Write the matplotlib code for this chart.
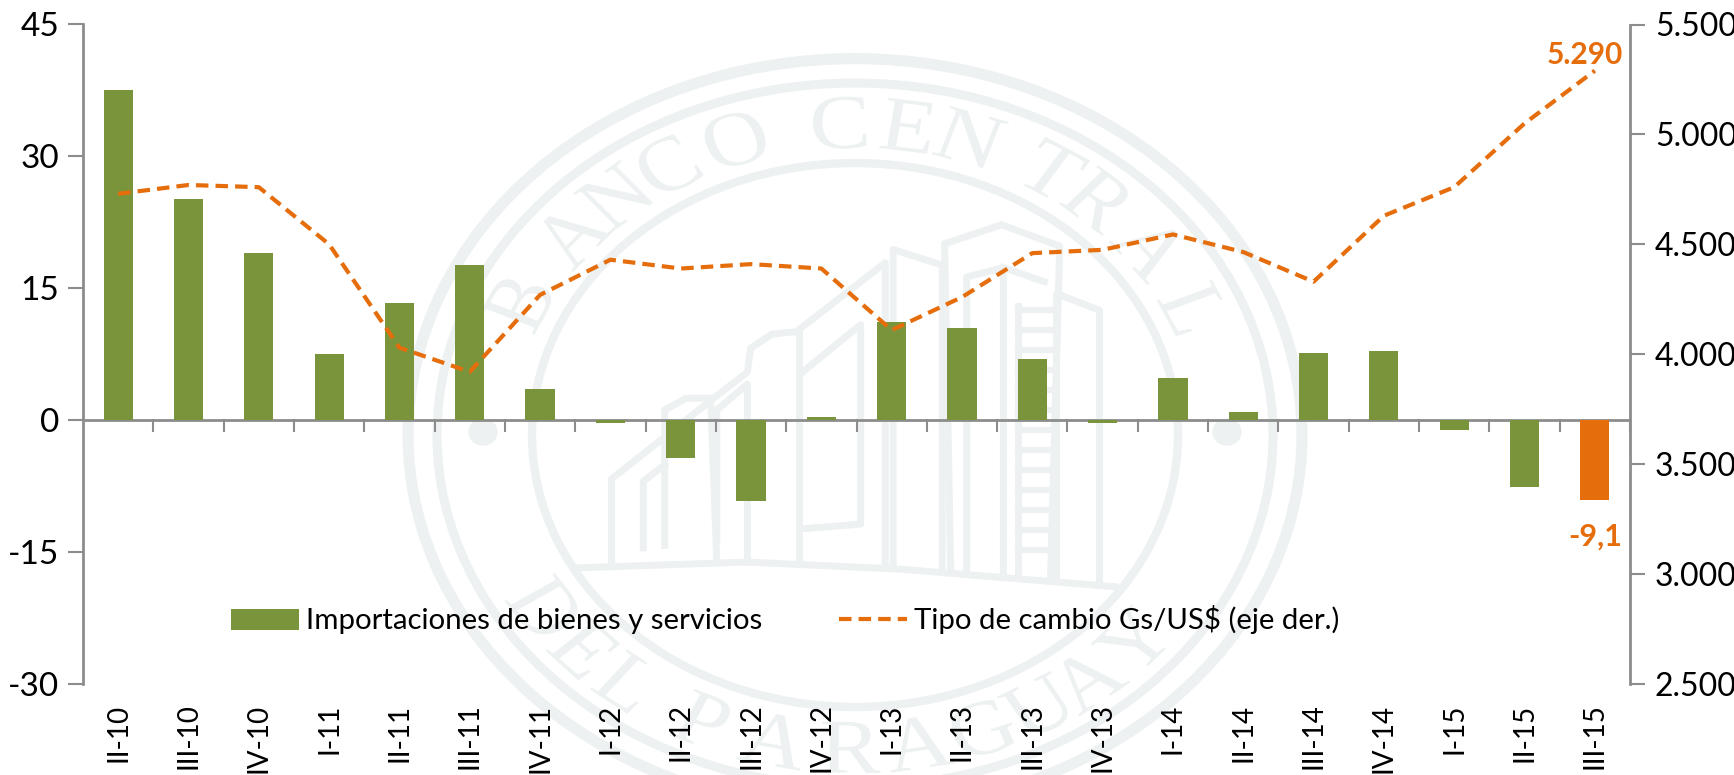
import numpy as np
import matplotlib
matplotlib.use("Agg")
import matplotlib.pyplot as plt
from matplotlib.font_manager import FontProperties
from matplotlib.patches import Ellipse, PathPatch
from matplotlib.textpath import TextPath
from matplotlib.transforms import Affine2D

categories = ["II-10","III-10","IV-10","I-11","II-11","III-11","IV-11","I-12","II-12","III-12","IV-12",
              "I-13","II-13","III-13","IV-13","I-14","II-14","III-14","IV-14","I-15","II-15","III-15"]
imports = [37.5,25.2,19.0,7.5,13.3,17.6,3.6,-0.3,-4.3,-9.2,0.4,11.2,10.5,7.0,-0.3,4.8,0.9,7.6,7.9,-1.1,-7.6,-9.1]
fx = [4730,4770,4760,4500,4030,3920,4270,4430,4390,4410,4390,4110,4260,4460,4475,4545,4465,4330,4630,4760,5050,5290]
left_ticks = [-30,-15,0,15,30,45]
right_ticks = [2500,3000,3500,4000,4500,5000,5500]
right_labels = ["2.500","3.000","3.500","4.000","4.500","5.000","5.500"]
GREEN, ORANGE, GREY, WM = "#7a943c", "#e56d0c", "#8c8c8c", "#edf1f1"
W, H = 1734, 775
plt.rcParams["font.family"] = ["Lato", "DejaVu Sans"]
plt.rcParams["axes.unicode_minus"] = False
fig = plt.figure(figsize=(W/100, H/100), dpi=100)

# --- faint seal behind the chart, in pixel coordinates (it is squashed vertically) ---
wm = fig.add_axes([0, 0, 1, 1], zorder=0)
wm.set_xlim(0, W); wm.set_ylim(H, 0); wm.axis("off")
cx, cy, squash = 855, 435, 0.842
for r, lw in [(447, 8), (418, 6.5), (323, 6)]:
    wm.add_patch(Ellipse((cx, cy), 2*r, 2*r*squash, fill=False, ec=WM, lw=lw))
serif = FontProperties(family="Liberation Serif")
def zp(pts):
    a = np.array(pts, float)
    return 380 + a[:, 0]/1.633, 30 + a[:, 1]/2.105
def arc(txt, places, r=371, bottom=False):
    px, py = zp(places)
    angles = np.degrees(np.arctan2(px - cx, -(py - cy)/squash))
    for ch, a in zip(txt, angles):
        tp = TextPath((0, 0), ch, size=92, prop=serif)
        bb = tp.get_extents()
        t = np.radians(a)
        rot = a - 180 if bottom else a
        tr = (Affine2D().translate(-(bb.x0+bb.x1)/2, -(bb.y0+bb.y1)/2)
              .scale(1, -1).rotate_deg(rot).scale(1, squash)
              .translate(cx + r*np.sin(t), cy - r*np.cos(t)*squash))
        wm.add_patch(PathPatch(tp, transform=tr + wm.transData, fc=WM, ec="none"))
arc("BANCOCENTRAL", [(215,570),(310,430),(370,330),(460,270),(580,230),(750,195),(860,215),
                     (960,240),(1100,290),(1175,360),(1260,460),(1320,590)])
arc("DELPARAGUAY", [(280,1210),(345,1290),(420,1350),(540,1420),(650,1470),(770,1500),(880,1510),
                    (990,1490),(1090,1450),(1170,1390),(1245,1300)], bottom=True)
for sx in (-1, 1):
    wm.add_patch(Ellipse((cx + sx*372, cy - 3), 28, 26, color=WM))
building = [
    [(325,1132),(600,1120),(850,1135),(1200,1172)],
    [(378,1120),(378,945),(545,775),(600,720),(605,670),(640,640),(680,635),(825,490),(825,1125)],
    [(430,1090),(430,950),(465,915)],
    [(465,1085),(465,800),(500,775),(540,775),(550,1120)],
    [(550,1075),(550,800),(600,745),(600,1120)],
    [(685,1120),(685,640)],
    [(690,720),(785,620),(785,1040),(690,1050)],
    [(838,1130),(838,462),(918,495),(918,1135)],
    [(932,1140),(922,450),(1015,410),(1110,455),(1095,1150)],
    [(958,1140),(958,520),(1018,500),(1018,1145)],
    [(1018,500),(1085,530)],
    [(1105,1160),(1105,555),(1175,590),(1175,1165)],
    [(1042,1140),(1042,580)],
]
for pts in building:
    wm.plot(*zp(pts), color=WM, lw=5, solid_joinstyle="round")
for zy in range(590, 1130, 42):
    wm.plot(*zp([(1042, zy), (1100, zy)]), color=WM, lw=4.5)

# --- main axes ---
x0, x1, y0, y1 = 83, 1630, 24.5, 684
ax = fig.add_axes([x0/W, 1-y1/H, (x1-x0)/W, (y1-y0)/H], zorder=1)
ax.patch.set_alpha(0)
xs = np.arange(len(categories))
colors = [GREEN]*(len(imports)-1) + [ORANGE]
bars = ax.bar(xs, imports, width=0.415, color=colors, zorder=2, label="Importaciones de bienes y servicios")
ax.set_xlim(-0.5, len(xs)-0.5); ax.set_ylim(-30, 45)
ax.set_yticks(left_ticks)
ax.tick_params(axis="y", labelsize=24, length=11, width=1.5, color=GREY, pad=6)
for s in ("top", "right", "bottom"):
    ax.spines[s].set_visible(False)
ax.spines["left"].set_color(GREY); ax.spines["left"].set_linewidth(2)
ax.axhline(0, color=GREY, lw=2, zorder=1.5)
ax.set_xticks(xs)
ax.set_xticklabels([])
ax.tick_params(axis="x", length=0)
for b in np.arange(0.5, len(xs)):
    ax.plot([b, b], [0, -1.25], color=GREY, lw=1.5, zorder=1, clip_on=False)
for x, c in zip(xs, categories):
    ax.annotate(c, (x, 0), xycoords=("data", "axes fraction"), xytext=(0, -14), textcoords="offset points",
                rotation=90, ha="center", va="top", fontsize=20)

ax2 = ax.twinx()
ax2.patch.set_alpha(0)
line, = ax2.plot(xs, fx, color=ORANGE, lw=3, ls=(0, (3, 1.7)), zorder=4, label="Tipo de cambio Gs/US$ (eje der.)")
ax2.set_ylim(2500, 5500)
ax2.set_yticks(right_ticks, right_labels)
ax2.tick_params(axis="y", labelsize=23, length=11, width=1.5, color=GREY, pad=7)
for s in ("top", "left", "bottom"):
    ax2.spines[s].set_visible(False)
ax2.spines["right"].set_color(GREY); ax2.spines["right"].set_linewidth(2)

ax.annotate("-9,1", (xs[-1], imports[-1]), xytext=(0, -16), textcoords="offset points", ha="center", va="top",
            color=ORANGE, fontsize=22, fontweight="bold")
ax2.annotate("5.290", (xs[-1], fx[-1]), xytext=(-7, 1), textcoords="offset points", ha="center", va="bottom",
             color=ORANGE, fontsize=21.5, fontweight="bold")
ax.legend([bars[0], line], [bars.get_label(), line.get_label()], ncol=2, frameon=False, fontsize=21.2,
          loc="center left", bbox_to_anchor=((231-x0)/(x1-x0), 1-(620-y0)/(y1-y0)),
          handlelength=2.3, handletextpad=0.25, columnspacing=2.6, borderaxespad=0, borderpad=0)
fig.savefig("out.png", dpi=100)
